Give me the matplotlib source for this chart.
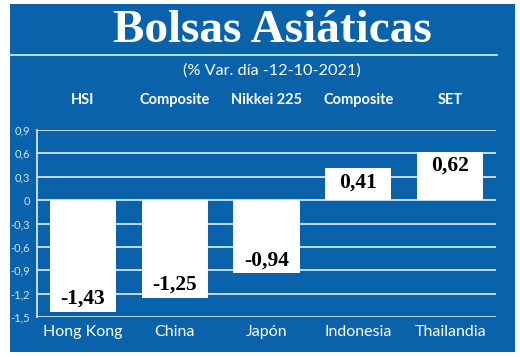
import matplotlib.pyplot as plt
from matplotlib.patches import Rectangle
from matplotlib.lines import Line2D

# Datos del gráfico
paises = ['Hong Kong', 'China', 'Japón', 'Indonesia', 'Thailandia']
indices = ['HSI', 'Composite', 'Nikkei 225', 'Composite', 'SET']
variacion = [-1.43, -1.25, -0.94, 0.41, 0.62]
ticks = [-1.5, -1.2, -0.9, -0.6, -0.3, 0, 0.3, 0.6, 0.9]

AZUL = '#0a62ab'
CELESTE = '#cfe6f6'
W, H = 520, 357


def fmt(v):
    s = f'{v:.2f}'.replace('.', ',')
    return s


def fmt_tick(v):
    if v == 0:
        return '0'
    return f'{v:.1f}'.replace('.', ',')


def main():
    fig = plt.figure(figsize=(W / 100, H / 100), dpi=100)
    fig.patch.set_facecolor('white')

    # Fondo azul
    fig.patches.append(Rectangle((10 / W, 1 - 352 / H), 505 / W, 348 / H,
                                 transform=fig.transFigure, facecolor=AZUL,
                                 edgecolor='none', zorder=-10))
    # Línea bajo el título
    fig.lines.append(Line2D([10 / W, 497 / W], [1 - 55 / H, 1 - 55 / H],
                            transform=fig.transFigure, color=CELESTE, lw=1.3))

    fig.text(272 / W, 1 - 31 / H, 'Bolsas Asiáticas', color='white',
             fontsize=34, fontweight='bold', family='Liberation Serif',
             ha='center', va='center')
    fig.text(272 / W, 1 - 71 / H, '(% Var. día -12-10-2021)', color='white',
             fontsize=11.7, family='Lato', ha='center', va='center')

    ax = fig.add_axes([37 / W, 1 - 317 / H, (496 - 37) / W, (317 - 130) / H])
    ax.set_facecolor('none')
    ax.set_zorder(5)
    x = list(range(len(paises)))

    for t in ticks:
        ax.axhline(t, color=CELESTE, lw=1.3, zorder=1)

    bars = ax.bar(x, variacion, width=0.72, color='white', zorder=2)

    for b, v in zip(bars, variacion):
        cx = b.get_x() + b.get_width() / 2
        if v < 0:
            ax.annotate(fmt(v), (cx, v), xytext=(0, 2), textcoords='offset points',
                        ha='center', va='bottom', fontsize=15.5, fontweight='bold',
                        family='Liberation Serif', color='black', zorder=3)
        else:
            ax.annotate(fmt(v), (cx, v), xytext=(0, -3), textcoords='offset points',
                        ha='center', va='top', fontsize=15.5, fontweight='bold',
                        family='Liberation Serif', color='black', zorder=3)

    ax.set_xlim(-0.5, 4.5)
    ax.set_ylim(-1.5, 0.9)
    ax.set_yticks(ticks)
    ax.set_yticklabels([fmt_tick(t) for t in ticks], color=CELESTE,
                       fontsize=8, family='Lato')
    ax.tick_params(axis='y', length=0, pad=5)
    ax.set_xticks(x)
    ax.set_xticklabels(paises, color='white', fontsize=11.5, family='Lato')
    ax.tick_params(axis='x', length=0, pad=6)

    for s in ['top', 'right', 'bottom']:
        ax.spines[s].set_visible(False)
    ax.spines['left'].set_color(CELESTE)
    ax.spines['left'].set_linewidth(1.3)

    # Nombres de los índices sobre el gráfico
    for xi, nombre in zip(x, indices):
        ax.annotate(nombre, (xi, 1), xycoords=('data', 'axes fraction'),
                    xytext=(0, 21.5), textcoords='offset points',
                    ha='center', va='center', color='white', fontsize=10.5,
                    fontweight='bold', family='Lato')

    fig.savefig('out.png', dpi=100, facecolor='white')


if __name__ == "__main__":
    main()
